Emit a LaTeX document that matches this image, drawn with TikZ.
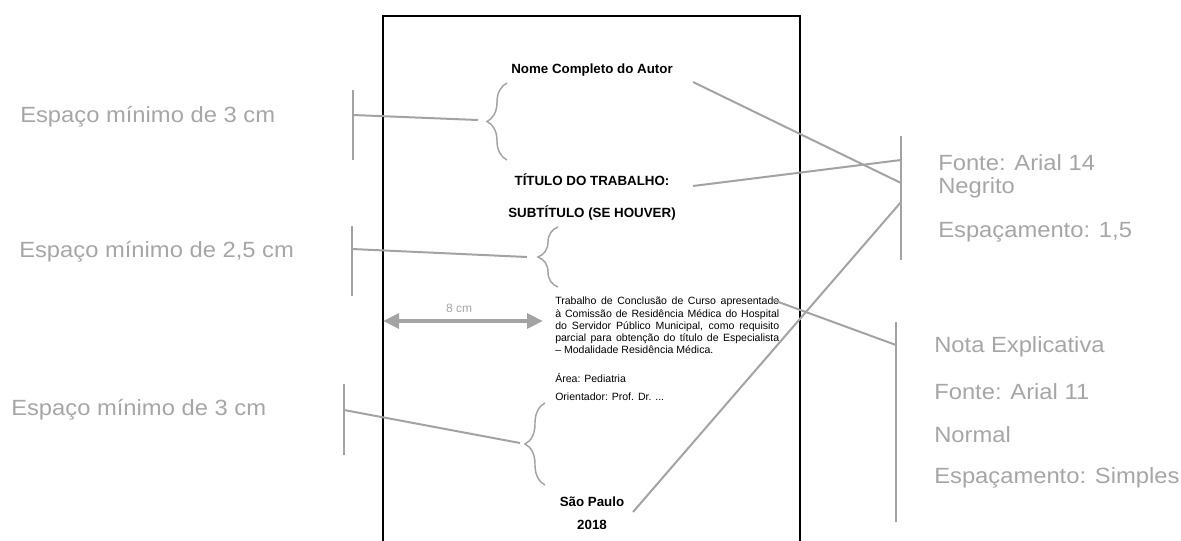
\documentclass[tikz,border=0pt]{standalone}
\usepackage{fontspec}
\setmainfont{Liberation Sans}
\newfontfamily\grayfont[FakeStretch=1.08]{Liberation Sans}
\usetikzlibrary{arrows.meta,decorations.pathreplacing}
\definecolor{lblgray}{HTML}{A6A6A6}
\definecolor{linegray}{HTML}{A3A3A3}
\begin{document}
\begin{tikzpicture}[x=0.75pt,y=-0.75pt,
  lbl/.style={font=\grayfont\fontsize{16.5pt}{19pt}\selectfont, text=lblgray, inner sep=0, anchor=west},
  ttl/.style={font=\bfseries\fontsize{10pt}{12pt}\selectfont, inner sep=0},
  para/.style={font=\fontsize{7.9pt}{9.1pt}\selectfont, inner sep=0, anchor=west},
  gline/.style={draw=linegray, line width=1.5pt},
  brc/.style={draw=linegray, line width=1.1pt, decorate, decoration={brace, amplitude=15pt}},
  dimarrow/.style={draw=linegray, line width=3pt, {Triangle[length=12pt,width=11pt]}-{Triangle[length=12pt,width=11pt]}}
]
\useasboundingbox (0,0) rectangle (1181,540);
% page
\draw[line width=1.5pt] (383,541) -- (383,16) -- (800,16) -- (800,541);

% page texts
\node[ttl] (autor) at (592,70) {Nome Completo do Autor};
\node[ttl] (titulo) at (592,180) {TÍTULO DO TRABALHO:};
\node[ttl] (sub) at (592,213) {SUBTÍTULO (SE HOUVER)};
\node[ttl] (sp) at (592,502) {São Paulo};
\node[ttl] (ano) at (592,525) {2018};
\node[inner sep=0, anchor=north west, align=left, font=\fontsize{7.9pt}{9.1pt}\selectfont] (nota) at (555,297)
 {\makebox[168pt][s]{Trabalho de Conclusão de Curso apresentado}\\
  \makebox[168pt][s]{à Comissão de Residência Médica do Hospital}\\
  \makebox[168pt][s]{do Servidor Público Municipal, como requisito}\\
  \makebox[168pt][s]{parcial para obtenção do título de Especialista}\\
  – Modalidade Residência Médica.};
\node[para] (area) at (555,378) {Área: Pediatria};
\node[para] (orient) at (555,397) {Orientador: Prof. Dr. ...};

% dimension arrow
\coordinate (dL) at (383,321);
\coordinate (dR) at (543,321);
\draw[dimarrow] (dL) -- (dR);
\node[font=\fontsize{9pt}{11pt}\selectfont, text=lblgray, inner sep=0] (oito) at (459,308) {8 cm};

% left labels
\node[lbl] (l1) at (20,117) {Espaço mínimo de 3 cm};
\node[lbl] (l2) at (19,252) {Espaço mínimo de 2,5 cm};
\node[lbl] (l3) at (11,410) {Espaço mínimo de 3 cm};

% right labels
\node[lbl] (r1a) at (938,163) {Fonte: Arial 14};
\node[lbl] (r1b) at (938,188) {Negrito};
\node[lbl] (r1c) at (938,232) {Espaçamento: 1,5};
\node[lbl] (r2a) at (934,347) {Nota Explicativa};
\node[lbl] (r2b) at (934,392) {Fonte: Arial 11};
\node[lbl] (r2c) at (934,435) {Normal};
\node[lbl] (r2d) at (934,478) {Espaçamento: Simples};

% braces
\draw[brc] (507,160) -- (507,83);
\draw[brc] (558,287) -- (558,227);
\draw[brc] (545,485) -- (545,403);
\coordinate (t1) at (478,120);
\coordinate (t2) at (527,257);
\coordinate (t3) at (520,443);

% left brackets
\coordinate (b1t) at (353,90);  \coordinate (b1b) at (353,160); \coordinate (b1m) at (353,115);
\coordinate (b2t) at (352,226); \coordinate (b2b) at (352,296); \coordinate (b2m) at (352,249);
\coordinate (b3t) at (344,384); \coordinate (b3b) at (344,455); \coordinate (b3m) at (344,410);
\draw[gline] (b1t) -- (b1b);
\draw[gline] (b2t) -- (b2b);
\draw[gline] (b3t) -- (b3b);
\draw[gline] (b1m) -- (t1);
\draw[gline] (b2m) -- (t2);
\draw[gline] (b3m) -- (t3);

% right brackets
\coordinate (r1t) at (901,136); \coordinate (r1b0) at (901,260);
\coordinate (r2t) at (896,322); \coordinate (r2b0) at (896,522);
\draw[gline] (r1t) -- (r1b0);
\draw[gline] (r2t) -- (r2b0);
\coordinate (e1) at (693,82);  \coordinate (k1) at (901,183);
\coordinate (e2) at (693,186); \coordinate (k2) at (901,160);
\coordinate (e3) at (633,512); \coordinate (k3) at (901,202);
\coordinate (e4) at (773,300); \coordinate (k4) at (896,345);
\draw[gline] (e1) -- (k1);
\draw[gline] (e2) -- (k2);
\draw[gline] (e3) -- (k3);
\draw[gline] (e4) -- (k4);
\end{tikzpicture}
\end{document}
